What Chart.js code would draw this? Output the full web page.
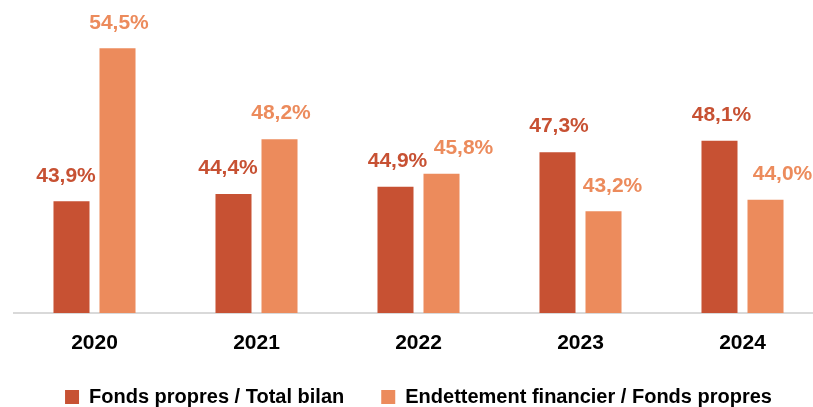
<!DOCTYPE html>
<html>
<head>
<meta charset="utf-8">
<script src="https://cdn.jsdelivr.net/npm/chart.js@4.4.1/dist/chart.umd.min.js"></script>
<style>
  html, body { margin: 0; padding: 0; background: #fff; overflow: hidden; }
  #wrap { width: 845px; height: 417px; }
</style>
</head>
<body>
<div id="wrap"><canvas id="c" width="845" height="417"></canvas></div>
<script>
// ---- Data ----
const categories = ['2020', '2021', '2022', '2023', '2024'];
const seriesNames = ['Fonds propres / Total bilan', 'Endettement financier / Fonds propres'];
const fondsPropresTotalBilan = [43.9, 44.4, 44.9, 47.3, 48.1];
const endettementFondsPropres = [54.5, 48.2, 45.8, 43.2, 44.0];

const DARK = '#C75133';
const LIGHT = '#EC8B5C';
const FONT = '"Liberation Sans", Arial, sans-serif';

const valueLabels = {
  id: 'valueLabels',
  afterDatasetsDraw(chart) {
    const ctx = chart.ctx;
    ctx.save();
    ctx.font = 'bold 21px ' + FONT;
    ctx.textAlign = 'center';
    ctx.textBaseline = 'middle';
    chart.data.datasets.forEach((ds, di) => {
      const meta = chart.getDatasetMeta(di);
      const offs = ds.labelOffsetX || [];
      meta.data.forEach((bar, i) => {
        const v = ds.data[i];
        const txt = v.toFixed(1).replace('.', ',') + '%';
        ctx.fillStyle = ds.labelColor;
        ctx.fillText(txt, bar.x + (offs[i] || 0), bar.y - 25.5);
      });
    });
    ctx.restore();
  }
};

new Chart(document.getElementById('c'), {
  type: 'bar',
  data: {
    labels: categories,
    datasets: [
      {
        label: seriesNames[0],
        data: fondsPropresTotalBilan,
        backgroundColor: DARK,
        labelColor: DARK,
        labelOffsetX: [-5.5, -5.5, 2, 1.5, 2],
        categoryPercentage: 0.568,
        barPercentage: 0.783
      },
      {
        label: seriesNames[1],
        data: endettementFondsPropres,
        backgroundColor: LIGHT,
        labelColor: LIGHT,
        labelOffsetX: [1.5, 1.5, 22, 9, 17],
        categoryPercentage: 0.568,
        barPercentage: 0.783
      }
    ]
  },
  options: {
    responsive: false,
    devicePixelRatio: 1,
    animation: false,
    layout: { padding: { left: 13.5, right: 21.5, top: 0, bottom: 0 } },
    scales: {
      x: {
        grid: { display: false, drawTicks: false },
        border: { display: true, color: '#D9D9D9', width: 2 },
        ticks: {
          color: '#000',
          padding: 18,
          font: { family: FONT, size: 21, weight: 'bold' }
        },
        afterFit(scale) { scale.height = 37; }
      },
      y: {
        display: false,
        min: 36.15,
        max: 57.85
      }
    },
    plugins: {
      legend: {
        position: 'bottom',
        labels: {
          color: '#000',
          boxWidth: 14,
          boxHeight: 14,
          padding: 37,
          font: { family: FONT, size: 20, weight: 'bold' }
        }
      },
      tooltip: { enabled: false }
    }
  },
  plugins: [valueLabels]
});
</script>
</body>
</html>
